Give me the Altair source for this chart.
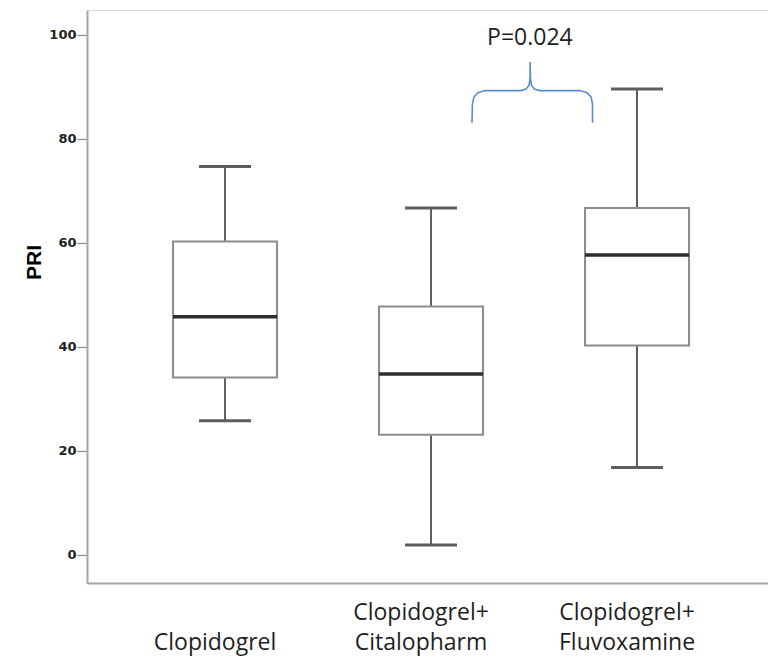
import altair as alt
import pandas as pd

# ---- data ----
categories = ["Clopidogrel", "Clopidogrel+Citalopharm", "Clopidogrel+Fluvoxamine"]
label_line1 = ["", "Clopidogrel+", "Clopidogrel+"]
label_line2 = ["Clopidogrel", "Citalopharm", "Fluvoxamine"]
whisker_low = [25.8, 1.9, 16.8]
q1 = [34.1, 23.1, 40.3]
median = [45.8, 34.8, 57.7]
q3 = [60.3, 47.8, 66.7]
whisker_high = [74.7, 66.7, 89.6]
y_ticks = [0, 20, 40, 60, 80, 100]

# brace annotation (x in category-index units, y in PRI units)
brace_x = [1.199, 1.201, 1.209, 1.228, 1.262, 1.437, 1.461, 1.476, 1.481, 1.481,
           1.483, 1.488, 1.502, 1.527, 1.723, 1.757, 1.777, 1.784, 1.784]
brace_y = [83.1, 86.7, 88.1, 88.9, 89.3, 89.3, 89.6, 90.3, 91.7, 94.8,
           91.7, 90.3, 89.6, 89.3, 89.3, 88.9, 88.1, 86.7, 83.1]
p_label = ["P=0.024"]
p_x = [1.48]
p_y = [98.1]

df = pd.DataFrame({
    "category": categories, "line1": label_line1, "line2": label_line2,
    "low": whisker_low, "q1": q1, "median": median, "q3": q3, "high": whisker_high,
})
df_brace = pd.DataFrame({"i": list(range(len(brace_x))), "bx": brace_x, "by": brace_y})
df_p = pd.DataFrame({"label": p_label, "px": p_x, "py": p_y})

W, H = 681, 573
yscale = alt.Scale(domain=[-5.4, 104.8], nice=False, zero=False)
xband = alt.Scale(paddingInner=0, paddingOuter=0.153, align=0.556)
idx_scale = alt.Scale(domain=[-0.670, 2.636], nice=False, zero=False)

xenc = alt.X("category:N", sort=categories, scale=xband,
             axis=alt.Axis(title=None, labels=False, ticks=False, domainColor="#a6a6a6",
                           domainWidth=2))
yaxis = alt.Axis(title="PRI", values=y_ticks, grid=False, domainColor="#a6a6a6", domainWidth=2,
                 tickColor="#8a8a8a", tickSize=10, tickWidth=1.2,
                 labelFont="DejaVu Sans", labelFontWeight="bold", labelFontSize=13,
                 labelColor="#222222", labelPadding=1,
                 titleFont="Liberation Sans", titleFontWeight="bold", titleFontSize=21,
                 titleColor="#000000", titleAngle=270, titleBaseline="middle",
                 titleX=-53, titleY=252)

base = alt.Chart(df).encode(x=xenc)

low_whisk = base.mark_rule(color="#5e5e5e", strokeWidth=2).encode(
    y=alt.Y("low:Q", scale=yscale, axis=yaxis), y2="q1:Q")
high_whisk = base.mark_rule(color="#5e5e5e", strokeWidth=2).encode(
    y=alt.Y("q3:Q", scale=yscale), y2="high:Q")
box = base.mark_bar(size=104, fill="white", stroke="#8c8c8c", strokeWidth=2).encode(
    y=alt.Y("q1:Q", scale=yscale), y2="q3:Q")
med = base.mark_tick(size=104, thickness=3.5, color="#2e2e2e", opacity=1).encode(
    y=alt.Y("median:Q", scale=yscale))
cap_low = base.mark_tick(size=52, thickness=3, color="#5e5e5e", opacity=1).encode(
    y=alt.Y("low:Q", scale=yscale))
cap_high = base.mark_tick(size=52, thickness=3, color="#5e5e5e", opacity=1).encode(
    y=alt.Y("high:Q", scale=yscale))

lab1 = base.mark_text(font="Open Sans", fontSize=23, color="#1f1f1f", baseline="alphabetic",
                      dx=-10).encode(y=alt.value(610), text="line1:N")
lab2 = base.mark_text(font="Open Sans", fontSize=23, color="#1f1f1f", baseline="alphabetic",
                      dx=-10).encode(y=alt.value(640), text="line2:N")

brace = alt.Chart(df_brace).mark_line(color="#5b8bd0", strokeWidth=1.6).encode(
    x=alt.X("bx:Q", scale=idx_scale, axis=None),
    y=alt.Y("by:Q", scale=yscale),
    order="i:Q",
)
ptext = alt.Chart(df_p).mark_text(font="Open Sans", fontSize=23, color="#1f1f1f",
                                   baseline="alphabetic").encode(
    x=alt.X("px:Q", scale=idx_scale, axis=None),
    y=alt.Y("py:Q", scale=yscale),
    text="label:N",
)

boxes = alt.layer(low_whisk, high_whisk, box, med, cap_low, cap_high, lab1, lab2)
annot = alt.layer(brace, ptext)

chart = alt.layer(boxes, annot).resolve_scale(x="independent").properties(
    width=W, height=H,
    padding={"left": 79, "top": 2, "right": 0, "bottom": 76},
    autosize=alt.AutoSizeParams(type="none"),
).configure_view(stroke=None).configure(background="white")

chart.save("out.html", embed_options={"renderer": "svg", "actions": False})
